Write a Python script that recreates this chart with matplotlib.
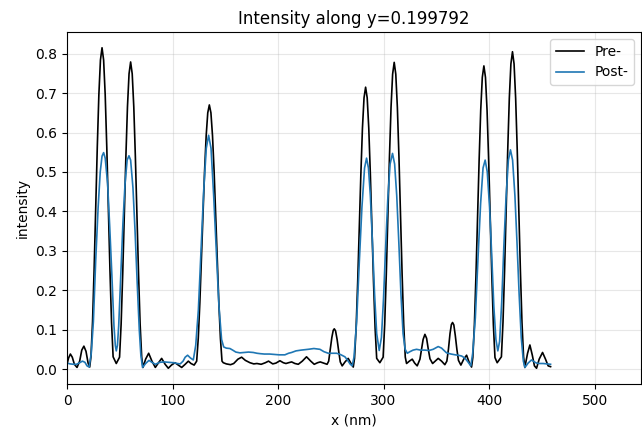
import matplotlib
matplotlib.use("Agg")
import matplotlib.pyplot as plt

title = "Intensity along y=0.199792"
series_labels = ["Pre-", "Post-"]

pre_x = [0, 1.5, 3.2, 5, 7, 9.5, 12, 14, 16, 18, 20, 21.5,
         22.7, 24.2, 25.7, 27.2, 28.7, 30.2, 31.7, 33.2, 34.7, 36.2, 37.7, 39.2, 40.7, 42.2, 43.7,
         46.7,
         49.8, 51.3, 52.8, 54.3, 55.8, 57.3, 58.8, 60.3, 61.8, 63.3, 64.8, 66.3, 67.8, 69.3, 70.8,
         72, 74.5, 77.4, 80.5, 83.7, 86.5, 89.7, 93, 96, 99, 102.3, 105.5, 108.7,
         112, 115, 117.5, 120.5,
         122.9, 124.4, 125.9, 127.4, 128.9, 130.4, 131.9, 133.4, 134.9, 136.4, 137.9, 139.4,
         140.9, 142.4, 143.9, 145.4, 146.9, 148.1,
         151, 155, 158, 162, 165.5, 169, 173.4, 177, 180, 184, 188, 191, 195,
         198, 201.8, 205, 207.5, 210, 212.9, 216, 219.2, 223, 227, 231, 234.3,
         237.5, 240, 244.4, 246.5, 248, 249.5, 251, 252.3, 253.3, 254.5, 256, 257.5, 259, 260.8,
         263.5, 266.5, 269, 271.3,
         272.5, 274, 275.5, 277, 278.5, 280, 281.5, 283, 284.5, 286, 287.5, 289, 290.5, 292, 293.5,
         296.5,
         299.6, 301.1, 302.6, 304.1, 305.6, 307.1, 308.6, 310.1, 311.6, 313.1, 314.6, 316.1,
         317.6, 319.1, 320.6, 321.8,
         324.5, 327.2, 329.5, 331.9, 334.5, 336, 337.5, 339.2, 340.8, 342.3, 344, 346.5, 349,
         351.8, 355, 358.1, 360, 361.5, 363, 364.3, 365.4, 366.6, 368, 369.5, 371, 373.3,
         376, 378.7, 381, 383.4,
         384.6, 386.1, 387.6, 389.1, 390.6, 392.1, 393.6, 395.1, 396.6, 398.1, 399.6, 401.1,
         402.6, 404.1, 405.6, 407.7,
         411.7, 413.2, 414.7, 416.2, 417.7, 419.2, 420.7, 422.2, 423.7, 425.2, 426.7,
         428.2, 429.7, 431.2, 432.7,
         433.9, 436.5, 438.7, 441, 443, 445, 447.5, 450.7, 453.5, 456, 458.3]
pre_y = [0.012, 0.028, 0.038, 0.03, 0.012, 0.004, 0.02, 0.048, 0.058, 0.045, 0.015, 0.005,
         0.031, 0.119, 0.252, 0.408, 0.563, 0.696, 0.784, 0.815, 0.784, 0.696, 0.563, 0.408, 0.252, 0.119, 0.031,
         0.014,
         0.030, 0.114, 0.241, 0.39, 0.538, 0.665, 0.749, 0.779, 0.749, 0.665, 0.538, 0.39, 0.241, 0.114, 0.030,
         0.004, 0.025, 0.04, 0.02, 0.004, 0.015, 0.027, 0.012, 0.002, 0.01, 0.016, 0.01, 0.004,
         0.012, 0.02, 0.014, 0.01,
         0.02, 0.078, 0.168, 0.277, 0.393, 0.503, 0.592, 0.65, 0.67, 0.65, 0.592, 0.503,
         0.393, 0.277, 0.168, 0.078, 0.02, 0.016,
         0.013, 0.011, 0.014, 0.025, 0.03, 0.022, 0.016, 0.013, 0.014, 0.012, 0.016, 0.02, 0.013,
         0.015, 0.021, 0.016, 0.014, 0.016, 0.018, 0.014, 0.012, 0.02, 0.031, 0.02, 0.012,
         0.016, 0.018, 0.014, 0.012, 0.02, 0.05, 0.08, 0.098, 0.102, 0.097, 0.075, 0.045, 0.018, 0.008,
         0.018, 0.027, 0.015, 0.005,
         0.027, 0.104, 0.221, 0.358, 0.494, 0.611, 0.688, 0.715, 0.688, 0.611, 0.494, 0.358, 0.221, 0.104, 0.027,
         0.016,
         0.03, 0.114, 0.24, 0.389, 0.538, 0.664, 0.748, 0.778, 0.748, 0.664, 0.538, 0.389,
         0.24, 0.114, 0.03, 0.014,
         0.02, 0.025, 0.015, 0.008, 0.025, 0.05, 0.075, 0.088, 0.078, 0.052, 0.026, 0.014, 0.02,
         0.027, 0.02, 0.011, 0.02, 0.05, 0.09, 0.113, 0.118, 0.112, 0.085, 0.05, 0.022, 0.01,
         0.025, 0.035, 0.018, 0.005,
         0.029, 0.112, 0.238, 0.385, 0.531, 0.657, 0.74, 0.769, 0.74, 0.657, 0.531, 0.385,
         0.238, 0.112, 0.029, 0.016,
         0.031, 0.118, 0.249, 0.403, 0.556, 0.687, 0.774, 0.805, 0.774, 0.687, 0.556,
         0.403, 0.249, 0.118, 0.031,
         0.004, 0.04, 0.061, 0.035, 0.008, 0.002, 0.025, 0.042, 0.025, 0.008, 0.006]

post_x = [0, 3, 6, 9, 12, 14.6, 17, 19, 21,
          23, 25, 27.2, 29.5, 31.5, 33.2, 34.7, 36.2, 38.5, 40.5, 42.5, 44.5, 45.8, 46.7,
          47.8, 49, 51, 53, 55, 57, 58.7, 60.3, 62.5, 64.5, 66.5, 68.5, 70, 71.6,
          74.5, 77.7, 80.5, 83.7, 88, 92, 96, 101, 104.5, 107.3, 110, 112, 114.3, 117, 119.7,
          122, 124.5, 127, 129.5, 132, 134.2, 136.5, 139, 141.5, 144, 146.5, 148.5,
          151, 154.4, 157, 160, 163.9, 168, 172, 176.5, 180, 183, 187, 192, 197, 201,
          206.5, 210, 212.9, 217, 222, 228.6, 234, 239.7, 243.5, 247.6, 252, 255.5,
          259, 263.4, 266, 268.5, 270.3,
          272, 274.5, 277, 279.5, 282, 283.9, 285.7, 287.5, 289.5, 291.5, 293.5, 295.9,
          298, 300, 302, 304, 306.2, 308.5, 310.5, 312.5, 314.5, 316.5, 318.5, 320.5,
          322.5, 325, 328, 331.3, 335, 339.2, 343, 347, 351.8, 355, 359.7, 364, 368,
          370.7, 374, 377, 380, 382.7,
          384.5, 387, 389.5, 392, 394.3, 396.3, 398.3, 400.5, 402.5, 404.5, 406.5, 408.3,
          410, 412, 414, 416, 418.3, 420.3, 422.3, 424.5, 426.5, 428.5, 430.5, 432.5,
          434, 437, 440.2, 443, 445, 448, 451.3, 455, 458.3]
post_y = [0.015, 0.013, 0.012, 0.012, 0.016, 0.02, 0.017, 0.008, 0.005,
          0.04, 0.12, 0.275, 0.41, 0.5, 0.54, 0.549, 0.535, 0.47, 0.36, 0.24, 0.11, 0.06, 0.046,
          0.06, 0.11, 0.24, 0.37, 0.47, 0.53, 0.541, 0.53, 0.46, 0.35, 0.22, 0.1, 0.035, 0.004,
          0.014, 0.022, 0.017, 0.012, 0.017, 0.018, 0.017, 0.016, 0.014, 0.013, 0.02, 0.03, 0.035, 0.028, 0.023,
          0.06, 0.15, 0.3, 0.45, 0.56, 0.593, 0.56, 0.44, 0.3, 0.16, 0.075, 0.056,
          0.053, 0.052, 0.048, 0.043, 0.041, 0.042, 0.043, 0.042, 0.04, 0.039, 0.038, 0.038, 0.037, 0.036,
          0.036, 0.04, 0.042, 0.046, 0.048, 0.05, 0.052, 0.05, 0.044, 0.04, 0.04, 0.04,
          0.037, 0.031, 0.022, 0.012, 0.008,
          0.03, 0.12, 0.27, 0.41, 0.51, 0.535, 0.51, 0.44, 0.32, 0.19, 0.09, 0.047,
          0.08, 0.18, 0.31, 0.43, 0.52, 0.547, 0.52, 0.44, 0.32, 0.19, 0.09, 0.05,
          0.04, 0.044, 0.048, 0.05, 0.048, 0.048, 0.047, 0.05, 0.057, 0.053, 0.041, 0.038, 0.036,
          0.035, 0.033, 0.028, 0.018, 0.008,
          0.04, 0.13, 0.28, 0.42, 0.51, 0.53, 0.5, 0.41, 0.29, 0.16, 0.075, 0.046,
          0.07, 0.17, 0.31, 0.43, 0.53, 0.556, 0.53, 0.44, 0.32, 0.19, 0.08, 0.02,
          0.004, 0.015, 0.023, 0.018, 0.015, 0.014, 0.014, 0.013, 0.012]

fig = plt.figure(figsize=(6.42, 4.32), dpi=100)
ax = fig.add_axes([67/642, 1 - 384/432, (641 - 67)/642, (384 - 32)/432])
ax.plot(pre_x, pre_y, color="black", lw=1.2, label=series_labels[0])
ax.plot(post_x, post_y, color="C0", lw=1.2, label=series_labels[1])
ax.set_xlim(0, 544)
ax.set_ylim(-0.038, 0.855)
ax.set_title(title, fontsize=12)
ax.set_xlabel("x (nm)")
ax.set_ylabel("intensity")
ax.grid(True, alpha=0.3)
ax.legend(loc="upper right")
fig.savefig("out.png", dpi=100)
